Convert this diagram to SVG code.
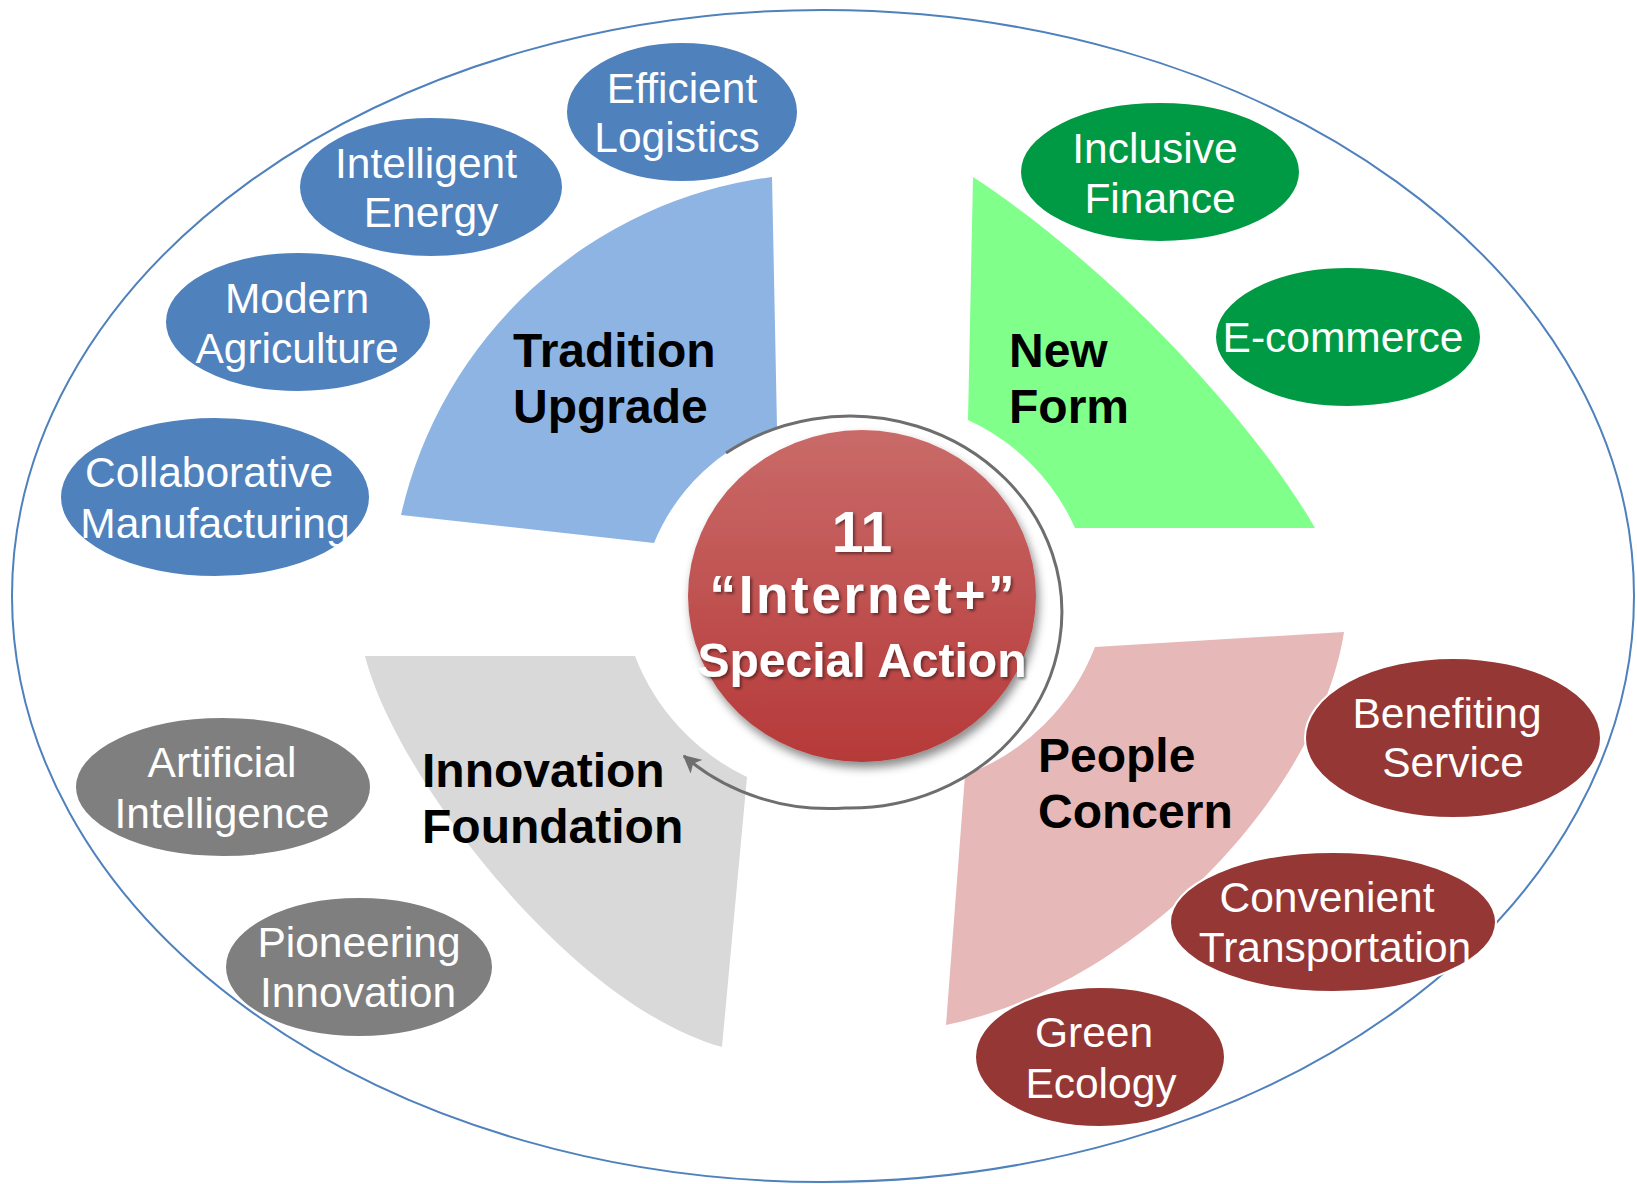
<svg xmlns="http://www.w3.org/2000/svg" width="1637" height="1184" viewBox="0 0 1637 1184">
<style>
.bg{fill:#ffffff}
.outer{fill:none;stroke:#4F81BD;stroke-width:2}
.sec-label{font-family:"Liberation Sans",Arial,sans-serif;font-weight:bold;font-size:48px;fill:#000}
.node-text{font-family:"Liberation Sans",Arial,sans-serif;font-size:42.5px;fill:#fff;text-anchor:middle}
.n-blue{fill:#4F81BD;stroke:#fff;stroke-width:2}
.n-green{fill:#009A44;stroke:#fff;stroke-width:2}
.n-red{fill:#953735;stroke:#fff;stroke-width:2}
.n-gray{fill:#7F7F7F;stroke:#fff;stroke-width:2}
.center-text{font-family:"Liberation Sans",Arial,sans-serif;font-weight:bold;fill:#fff;text-anchor:middle}
.ring{fill:none;stroke:#6E6E6E;stroke-width:3}
</style>
<defs>
<linearGradient id="redGrad" x1="0" y1="0" x2="0" y2="1">
<stop offset="0" stop-color="#C96B69"/>
<stop offset="1" stop-color="#B63939"/>
</linearGradient>
<filter id="shadow" x="-20%" y="-20%" width="140%" height="140%">
<feDropShadow dx="3" dy="6" stdDeviation="5" flood-color="#000" flood-opacity="0.45"/>
</filter>
<filter id="tshadow" x="-10%" y="-20%" width="120%" height="140%">
<feDropShadow dx="2" dy="2" stdDeviation="1.5" flood-color="#000" flood-opacity="0.45"/>
</filter>
<marker id="arrow" viewBox="0 0 12 12" refX="11" refY="6" markerWidth="6" markerHeight="6" markerUnits="strokeWidth" orient="auto">
<path d="M0,0 L12,6 L0,12 L3,6 Z" fill="#6E6E6E"/>
</marker>
</defs>
<rect class="bg" x="0" y="0" width="1637" height="1184"/>
<ellipse id="frame" class="outer" cx="823" cy="596" rx="811" ry="586"/>

<g id="sector-tradition">
<path d="M772,177 L777,427 A205,205 0 0 0 654,543 L401,515 A438,438 0 0 1 772,177 Z" fill="#8EB4E3"/>
<text class="sec-label" x="513" y="367">Tradition</text>
<text class="sec-label" x="513" y="423">Upgrade</text>
</g>
<g id="sector-newform">
<path d="M973,177 C1130,280 1265,440 1315,528 L1075,528 A215,215 0 0 0 968,420 Z" fill="#80FF8A"/>
<text class="sec-label" x="1009" y="367">New</text>
<text class="sec-label" x="1009" y="423">Form</text>
</g>
<g id="sector-people">
<path d="M1344,632 L1095,647 A222,222 0 0 1 965,775 L946,1025 C1140,985 1320,790 1344,632 Z" fill="#E6B9B8"/>
<text class="sec-label" x="1038" y="772">People</text>
<text class="sec-label" x="1038" y="828">Concern</text>
</g>
<g id="sector-innovation">
<path d="M365,656 L635,656 A222,222 0 0 0 747,777 L722,1047 C570,1005 395,775 365,656 Z" fill="#D9D9D9"/>
<text class="sec-label" x="422" y="787">Innovation</text>
<text class="sec-label" x="422" y="843">Foundation</text>
</g>

<g id="connectors">
<path class="ring" d="M726,453 A212,196 0 1 1 845,808 A212,196 0 0 1 684,756" marker-end="url(#arrow)"/>
</g>

<g id="center">
<ellipse cx="862" cy="596" rx="174" ry="166" fill="url(#redGrad)" filter="url(#shadow)"/>
<g filter="url(#tshadow)">
<text class="center-text" x="862" y="552" font-size="57">11</text>
<text class="center-text" x="862" y="613" font-size="53" textLength="305" lengthAdjust="spacing">“Internet+”</text>
<text class="center-text" x="862" y="677" font-size="48">Special Action</text>
</g>
</g>

<g id="node-efficient-logistics">
<ellipse class="n-blue" cx="682" cy="112" rx="116" ry="70"/>
<text class="node-text" x="682" y="103">Efficient</text>
<text class="node-text" x="677" y="152">Logistics</text>
</g>
<g id="node-intelligent-energy">
<ellipse class="n-blue" cx="431" cy="187" rx="132" ry="70"/>
<text class="node-text" x="426" y="178">Intelligent</text>
<text class="node-text" x="431" y="227">Energy</text>
</g>
<g id="node-modern-agriculture">
<ellipse class="n-blue" cx="298" cy="322" rx="133" ry="70"/>
<text class="node-text" x="297" y="313">Modern</text>
<text class="node-text" x="297" y="363">Agriculture</text>
</g>
<g id="node-collaborative-manufacturing">
<ellipse class="n-blue" cx="215" cy="497" rx="155" ry="80"/>
<text class="node-text" x="209" y="487">Collaborative</text>
<text class="node-text" x="215" y="538">Manufacturing</text>
</g>
<g id="node-inclusive-finance">
<ellipse class="n-green" cx="1160" cy="172" rx="140" ry="70"/>
<text class="node-text" x="1155" y="163">Inclusive</text>
<text class="node-text" x="1160" y="213">Finance</text>
</g>
<g id="node-ecommerce">
<ellipse class="n-green" cx="1348" cy="337" rx="133" ry="70"/>
<text class="node-text" x="1343" y="352">E-commerce</text>
</g>
<g id="node-benefiting-service">
<ellipse class="n-red" cx="1453" cy="738" rx="148" ry="80"/>
<text class="node-text" x="1447" y="728">Benefiting</text>
<text class="node-text" x="1453" y="777">Service</text>
</g>
<g id="node-convenient-transportation">
<ellipse class="n-red" cx="1333" cy="922" rx="163" ry="70"/>
<text class="node-text" x="1327" y="912">Convenient</text>
<text class="node-text" x="1335" y="962">Transportation</text>
</g>
<g id="node-green-ecology">
<ellipse class="n-red" cx="1100" cy="1057" rx="125" ry="70"/>
<text class="node-text" x="1094" y="1047">Green</text>
<text class="node-text" x="1101" y="1098">Ecology</text>
</g>
<g id="node-artificial-intelligence">
<ellipse class="n-gray" cx="223" cy="787" rx="148" ry="70"/>
<text class="node-text" x="222" y="777">Artificial</text>
<text class="node-text" x="222" y="828">Intelligence</text>
</g>
<g id="node-pioneering-innovation">
<ellipse class="n-gray" cx="359" cy="967" rx="134" ry="70"/>
<text class="node-text" x="359" y="957">Pioneering</text>
<text class="node-text" x="358" y="1007">Innovation</text>
</g>
</svg>
